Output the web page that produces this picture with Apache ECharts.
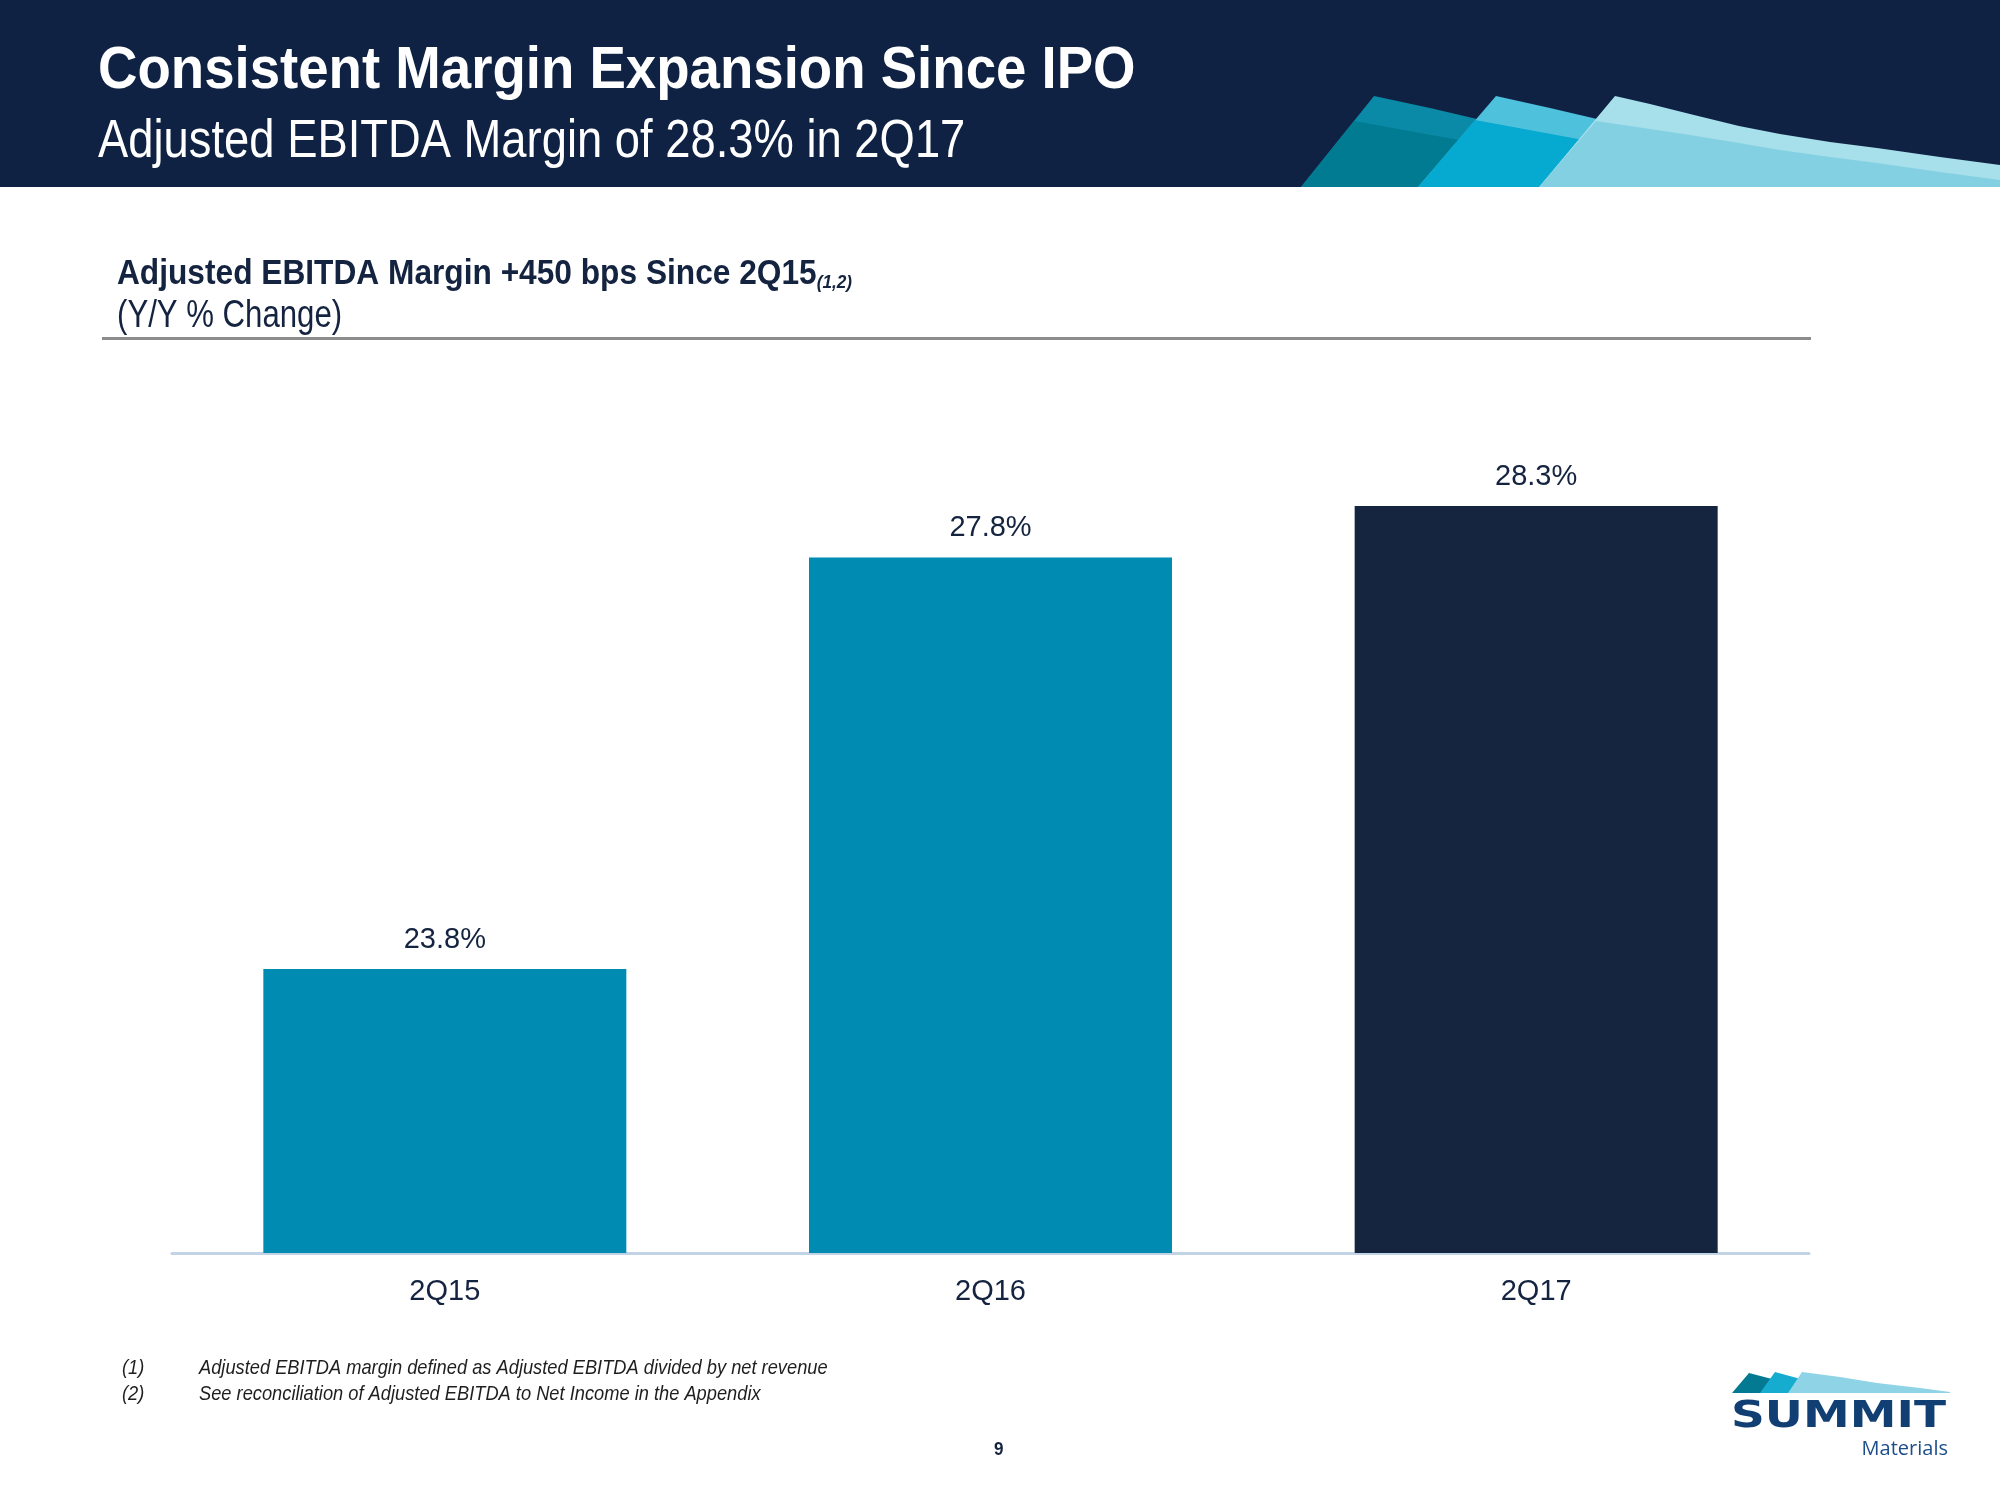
<!DOCTYPE html>
<html>
<head>
<meta charset="utf-8">
<script src="https://cdn.jsdelivr.net/npm/echarts@6/dist/echarts.min.js"></script>
<style>
html,body{margin:0;padding:0;background:#fff;}
#chart{width:2000px;height:1500px;}
</style>
</head>
<body>
<div id="chart"></div>
<script>
// ---- data ----
const categories = ['2Q15', '2Q16', '2Q17'];
const marginValues = [23.8, 27.8, 28.3];
const valueLabels = ['23.8%', '27.8%', '28.3%'];
const footnotes = [
  ['(1)', 'Adjusted EBITDA margin defined as Adjusted EBITDA divided by net revenue'],
  ['(2)', 'See reconciliation of Adjusted EBITDA to Net Income in the Appendix']
];

// ---- styles ----
const NARROW = '"Liberation Sans Narrow", "Arial Narrow", "Liberation Sans", Arial, sans-serif';
const NAVY = '#0f2243';
const TEXT = '#14233f';
const barColors = ['#008bb3', '#008bb3', '#15243f'];

function txt(x, y, text, font, fill, sx, extra) {
  return Object.assign({
    type: 'text', z: 20, x: x, y: y, scaleX: sx || 1,
    style: {x: 0, y: 0, text: text, font: font, fill: fill, verticalAlign: 'middle', align: 'left'}
  }, extra || {});
}

const chart = echarts.init(document.getElementById('chart'), null, {renderer: 'canvas'});

const graphics = [
  // header band
  {type: 'rect', shape: {x: 0, y: 0, width: 2000, height: 187}, style: {fill: NAVY}, z: 1},
  // decoration shape 1
  {type: 'polygon', z: 2, shape: {points: [[1301,187],[1374,96],[1430,108],[1477,119],[1520,130],[1520,187]]}, style: {fill: '#0a8aa6'}},
  {type: 'polygon', z: 3, shape: {points: [[1301,187],[1354,121],[1459,140],[1520,152],[1520,187]]}, style: {fill: '#007b92'}},
  // decoration shape 2
  {type: 'polygon', z: 4, shape: {points: [[1418,187],[1496,96],[1550,108],[1597,119],[1640,130],[1640,187]]}, style: {fill: '#4ec1dc'}},
  {type: 'polygon', z: 5, shape: {points: [[1418,187],[1475,120],[1578,139],[1640,152],[1640,187]]}, style: {fill: '#06a9cf'}},
  // decoration shape 3
  {type: 'polygon', z: 6, shape: {points: [[1539,187],[1615,96],[1650,104],[1690,114],[1739,126],[1780,134],[1830,142],[1877,148],[1940,157],[2000,165],[2000,187]]}, style: {fill: '#a7dfeb'}},
  {type: 'polygon', z: 7, shape: {points: [[1539,187],[1596,121],[1650,129],[1690,135],[1739,143],[1780,150],[1830,157],[1877,163],[1940,172],[2000,180],[2000,187]]}, style: {fill: '#84d0e3'}},
  // titles
  txt(98, 71, 'Consistent Margin Expansion Since IPO', 'bold 60px ' + NARROW, '#ffffff', 0.91),
  txt(98, 142, 'Adjusted EBITDA Margin of 28.3% in 2Q17', '54px ' + NARROW, '#ffffff', 0.84),
  // chart title
  {type: 'text', z: 20, x: 117, y: 272, scaleX: 0.905, style: {x: 0, y: 0, text: '{b|Adjusted EBITDA Margin +450 bps Since 2Q15}{s|(1,2)}', verticalAlign: 'middle',
    rich: {b: {font: 'bold 35px ' + NARROW, fill: TEXT, verticalAlign: 'bottom', lineHeight: 40}, s: {font: 'italic bold 19px ' + NARROW, fill: TEXT, verticalAlign: 'bottom', lineHeight: 30}}}},
  txt(117, 317, '(Y/Y % Change)', '38px ' + NARROW, TEXT, 0.82),
  {type: 'rect', z: 10, shape: {x: 102, y: 337, width: 1709, height: 3}, style: {fill: '#8c8c8c'}},
  // footnotes
  txt(122, 1368, footnotes[0][0], 'italic 21px ' + NARROW, '#1e1e1e', 0.87),
  txt(199, 1368, footnotes[0][1], 'italic 21px ' + NARROW, '#1e1e1e', 0.87),
  txt(122, 1394, footnotes[1][0], 'italic 21px ' + NARROW, '#1e1e1e', 0.87),
  txt(199, 1394, footnotes[1][1], 'italic 21px ' + NARROW, '#1e1e1e', 0.87),
  // page number
  txt(994, 1450, '9', 'bold 19px ' + NARROW, TEXT, 0.9),
  // logo mountains
  {type: 'polygon', z: 10, shape: {points: [[1732,1393],[1749,1373],[1772,1379],[1790,1384],[1790,1393]]}, style: {fill: '#047a92'}},
  {type: 'polygon', z: 11, shape: {points: [[1760,1393],[1775,1372],[1797,1378],[1815,1384],[1815,1393]]}, style: {fill: '#16acd0'}},
  {type: 'polygon', z: 12, shape: {points: [[1788,1393],[1802,1372],[1840,1377],[1877,1383],[1920,1388],[1950,1392],[1950,1393]]}, style: {fill: '#8fd3e6'}},
  // logo text
  txt(1731, 1417, 'SUMMIT', 'bold 37px "DejaVu Sans", sans-serif', '#113f73', 1.27),
  {type: 'text', z: 20, style: {x: 1948, y: 1449, text: 'Materials', fill: '#1d4e89', font: '20px "Open Sans", sans-serif', align: 'right', verticalAlign: 'middle'}}
];

const option = {
  animation: false,
  backgroundColor: '#ffffff',
  grid: {left: 172, right: 191, top: 327, bottom: 247, containLabel: false},
  xAxis: {
    type: 'category',
    data: categories,
    axisLine: {show: true, lineStyle: {color: '#c3d3e6', width: 3}},
    axisTick: {show: false},
    axisLabel: {color: TEXT, fontFamily: NARROW, fontSize: 29, margin: 24}
  },
  yAxis: {
    type: 'value', min: 21.04, max: 30.04, show: false,
    splitLine: {show: false}
  },
  series: [{
    type: 'bar',
    barWidth: 363,
    data: marginValues.map((v, i) => ({value: v, itemStyle: {color: barColors[i]}})),
    label: {
      show: true, position: 'top', distance: 15,
      color: TEXT, fontFamily: NARROW, fontSize: 29,
      formatter: p => valueLabels[p.dataIndex]
    }
  }],
  graphic: graphics
};
chart.setOption(option);
</script>
</body>
</html>
